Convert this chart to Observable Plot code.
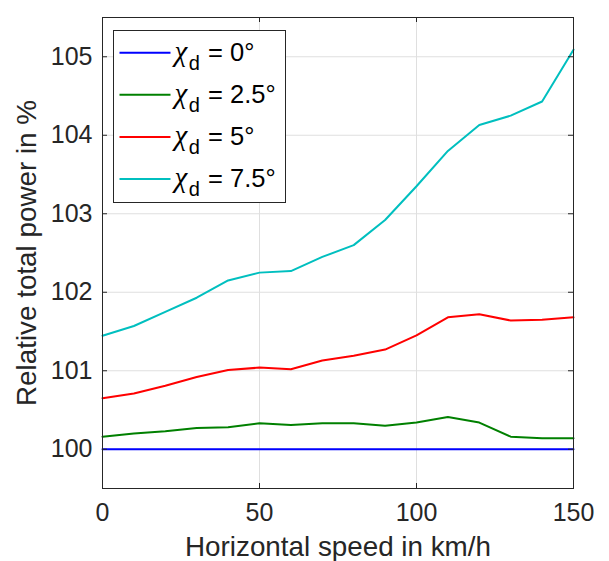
<!DOCTYPE html>
<html>
<head>
<meta charset="utf-8">
<script src="https://cdn.jsdelivr.net/npm/d3@7"></script>
<script src="https://cdn.jsdelivr.net/npm/@observablehq/plot@0.6"></script>
<style>
  html, body { margin: 0; padding: 0; background: #fff; }
  #chart { width: 609px; height: 561px; }
</style>
</head>
<body>
<div id="chart"></div>
<script>
// Horizontal speed (km/h) at which the relative total power was evaluated
const speed = [0, 10, 20, 30, 40, 50, 60, 70, 80, 90, 100, 110, 120, 130, 140, 150];

// Relative total power (%) for each drift angle chi_d
const power0  = [100, 100, 100, 100, 100, 100, 100, 100, 100, 100, 100, 100, 100, 100, 100, 100];
const power25 = [100.16, 100.20, 100.23, 100.27, 100.28, 100.33, 100.31, 100.33, 100.33, 100.30, 100.34, 100.41, 100.34, 100.16, 100.14, 100.14];
const power5  = [100.65, 100.71, 100.81, 100.92, 101.01, 101.04, 101.02, 101.13, 101.19, 101.27, 101.45, 101.68, 101.72, 101.64, 101.65, 101.68];
const power75 = [101.445, 101.57, 101.75, 101.93, 102.15, 102.25, 102.27, 102.45, 102.60, 102.92, 103.35, 103.80, 104.13, 104.25, 104.43, 105.09];

const angles = ["0°", "2.5°", "5°", "7.5°"];
const colors = ["#0000ff", "#008000", "#ff0000", "#00bfbf"];
const seriesValues = [power0, power25, power5, power75];

const xTicks = [0, 50, 100, 150];
const yTicks = [100, 101, 102, 103, 104, 105];

const rows = seriesValues.flatMap((vals, i) =>
  vals.map((v, j) => ({ speed: speed[j], power: v, angle: angles[i] }))
);

const W = 609, H = 561;
const mL = 102, mR = 36, mT = 17, mB = 73;
const frameW = W - mL - mR, frameH = H - mT - mB;
const tickLen = 5;
const ink = "#262626";
const gridInk = "#dfdfdf";

const chart = Plot.plot({
  width: W,
  height: H,
  marginLeft: mL,
  marginRight: mR,
  marginTop: mT,
  marginBottom: mB,
  style: {
    fontFamily: "'Liberation Sans', Arial, Helvetica, sans-serif",
    fontSize: "25px",
    color: ink,
    background: "#fff"
  },
  x: { domain: [0, 150] },
  y: { domain: [99.5, 105.5] },
  color: { domain: angles, range: colors },
  marks: [
    Plot.gridX(xTicks, { stroke: gridInk, strokeOpacity: 1, strokeWidth: 1 }),
    Plot.gridY(yTicks, { stroke: gridInk, strokeOpacity: 1, strokeWidth: 1 }),
    Plot.line(rows, { x: "speed", y: "power", z: "angle", stroke: "angle", strokeWidth: 2 }),
    Plot.frame({ stroke: ink, strokeWidth: 1 }),
    // inward tick marks on all four sides
    Plot.tickX(xTicks, { x: d => d, insetTop: frameH - tickLen, stroke: ink }),
    Plot.tickX(xTicks, { x: d => d, insetBottom: frameH - tickLen, stroke: ink }),
    Plot.tickY(yTicks, { y: d => d, insetRight: frameW - tickLen, stroke: ink }),
    Plot.tickY(yTicks, { y: d => d, insetLeft: frameW - tickLen, stroke: ink }),
    Plot.axisX(xTicks, { tickSize: 0, tickPadding: 15, label: null, fontSize: 25, fill: ink, tickFormat: d3.format("d") }),
    Plot.axisY(yTicks, { tickSize: 0, tickPadding: 10, label: null, fontSize: 25, fill: ink, tickFormat: d3.format("d") }),
    Plot.text(["Horizontal speed in km/h"], {
      frameAnchor: "bottom", dy: 58.5, lineAnchor: "middle", textAnchor: "middle",
      fontSize: 27.8, fill: ink, text: d => d
    }),
    Plot.text(["Relative total power in %"], {
      frameAnchor: "left", dx: -75, rotate: -90, lineAnchor: "middle", textAnchor: "middle",
      fontSize: 27.8, fill: ink, text: d => d
    })
  ]
});

// legend box in the upper-left corner of the axes
const svg = d3.select(chart);
const legend = svg.append("g").attr("transform", "translate(113.5,30.5)");
legend.append("rect")
  .attr("width", 172).attr("height", 172)
  .attr("fill", "#fff").attr("stroke", ink).attr("stroke-width", 1);
const rowGap = 42.1;
angles.forEach((a, i) => {
  const cy = 22.2 + i * rowGap;
  legend.append("line")
    .attr("x1", 6).attr("x2", 57).attr("y1", cy).attr("y2", cy)
    .attr("stroke", colors[i]).attr("stroke-width", 2);
  const t = legend.append("text")
    .attr("x", 61).attr("y", cy + 7.8)
    .attr("fill", "#000")
    .attr("text-anchor", "start")
    .style("font-family", "'Liberation Sans', Arial, sans-serif")
    .style("font-size", "25.5px");
  t.append("tspan").text("χ")
    .style("font-family", "'Liberation Serif', 'DejaVu Serif', serif")
    .style("font-style", "italic")
    .style("font-size", "29px");
  t.append("tspan").text("d").attr("dy", 9).attr("dx", 1.5).style("font-size", "20px");
  t.append("tspan").text(" = " + a).attr("dy", -9).attr("dx", 1);
});

document.getElementById("chart").appendChild(chart);
</script>
</body>
</html>
